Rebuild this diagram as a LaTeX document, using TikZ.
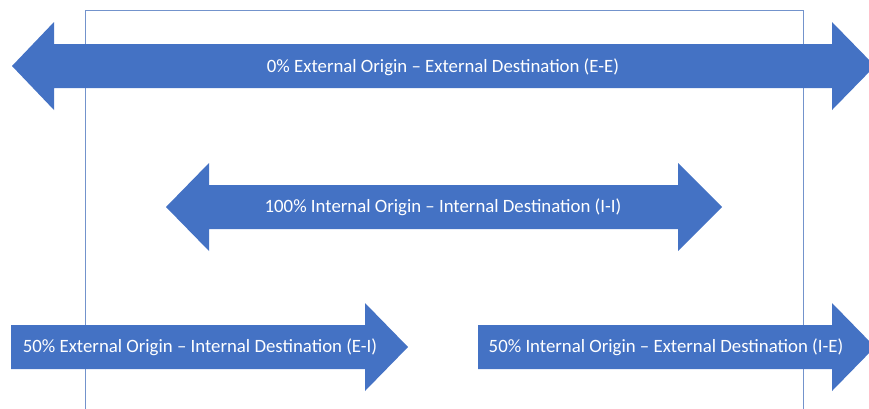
\documentclass[tikz,border=0pt]{standalone}
\usepackage{fontspec}
\setmainfont{Carlito}
\usetikzlibrary{positioning}
\definecolor{arrowblue}{HTML}{4472C4}
\definecolor{framecol}{HTML}{7393CC}
\tikzset{
    arrowbody/.style={fill=arrowblue, draw=none},
    caption/.style={text=white, font=\fontsize{18.8}{22}\selectfont, inner sep=0pt},
    frame/.style={draw=framecol, line width=0.8pt}
}

\begin{document}
\begin{tikzpicture}[x=1pt, y=-1pt]
    \useasboundingbox (0,0) rectangle (869,408);
    \clip (0,0) rectangle (869,408);

    % frame
    \draw[frame] (85,420) |- (803,10) -- (803,420);

    % arrows
    \fill[arrowbody] (12,66) -- (54,22) -- (54,44) -- (832,44) -- (832,22) -- (875,66)
        -- (832,110) -- (832,88) -- (54,88) -- (54,110) -- cycle;
    \fill[arrowbody] (166,207) -- (209,163) -- (209,185) -- (678,185) -- (678,163) -- (722,207)
        -- (678,251) -- (678,229) -- (209,229) -- (209,251) -- cycle;
    \fill[arrowbody] (11,325) -- (365,325) -- (365,303) -- (408,347) -- (365,391) -- (365,369)
        -- (11,369) -- cycle;
    \fill[arrowbody] (478,325) -- (832,325) -- (832,303) -- (875,347) -- (832,391) -- (832,369)
        -- (478,369) -- cycle;

    % labels
    \node[caption] (ee) at (443,67) {0\% External Origin -- External Destination (E-E)};
    \node[caption] (ii) at (443,207) {100\% Internal Origin -- Internal Destination (I-I)};
    \node[caption] (ei) at (200,347) {50\% External Origin -- Internal Destination (E-I)};
    \node[caption] (ie) at (666,347) {50\% Internal Origin -- External Destination (I-E)};
\end{tikzpicture}
\end{document}
